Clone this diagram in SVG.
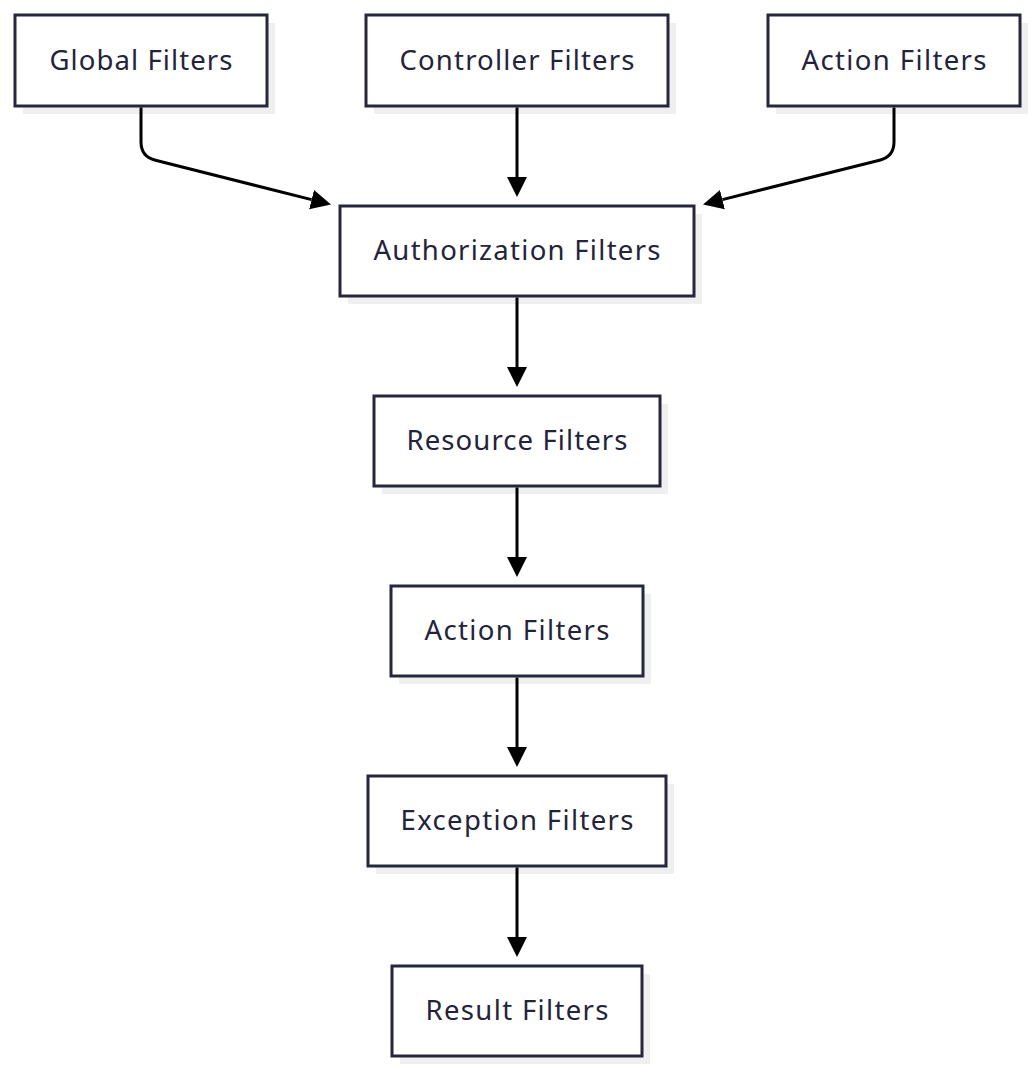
<svg xmlns="http://www.w3.org/2000/svg" width="1036" height="1072" viewBox="0 0 1036 1072">
<style>
.shadow{fill:#efefef;}
.box{fill:#ffffff;stroke:#26263c;stroke-width:3;}
.lbl{font-family:"Noto Sans","Liberation Sans",sans-serif;font-size:27.5px;fill:#23233a;text-anchor:middle;}
.edge{fill:none;stroke:#000000;stroke-width:3;}
</style>
<defs>
<marker id="arr" viewBox="0 0 10 10" refX="0" refY="5" markerUnits="userSpaceOnUse" markerWidth="20" markerHeight="25" orient="auto">
<path d="M0,0 L10,5 L0,10 z" fill="#000000"/>
</marker>
</defs>
<rect width="1036" height="1072" fill="#ffffff"/>
<g id="global">
<rect class="shadow" x="23" y="23" width="252" height="91"/>
<rect class="box" x="15" y="15" width="252" height="91"/>
<text class="lbl" x="141" y="70" textLength="183">Global Filters</text>
</g>
<g id="controller">
<rect class="shadow" x="374" y="23" width="302" height="91"/>
<rect class="box" x="366" y="15" width="302" height="91"/>
<text class="lbl" x="517" y="70" textLength="235">Controller Filters</text>
</g>
<g id="action_top">
<rect class="shadow" x="776" y="23" width="252" height="91"/>
<rect class="box" x="768" y="15" width="252" height="91"/>
<text class="lbl" x="894" y="70" textLength="185">Action Filters</text>
</g>
<g id="authorization">
<rect class="shadow" x="348" y="214" width="354" height="90"/>
<rect class="box" x="340" y="206" width="354" height="90"/>
<text class="lbl" x="517" y="260" textLength="287">Authorization Filters</text>
</g>
<g id="resource">
<rect class="shadow" x="382" y="404" width="286" height="90"/>
<rect class="box" x="374" y="396" width="286" height="90"/>
<text class="lbl" x="517" y="450" textLength="221">Resource Filters</text>
</g>
<g id="action">
<rect class="shadow" x="399" y="594" width="252" height="90"/>
<rect class="box" x="391" y="586" width="252" height="90"/>
<text class="lbl" x="517" y="640" textLength="185">Action Filters</text>
</g>
<g id="exception">
<rect class="shadow" x="376" y="784" width="298" height="90"/>
<rect class="box" x="368" y="776" width="298" height="90"/>
<text class="lbl" x="517" y="830" textLength="233">Exception Filters</text>
</g>
<g id="result">
<rect class="shadow" x="400" y="974" width="250" height="90"/>
<rect class="box" x="392" y="966" width="250" height="90"/>
<text class="lbl" x="517" y="1020" textLength="183">Result Filters</text>
</g>
<g id="connectors">
<path class="edge" d="M141,107.5 L141,142 Q141,156.7 155.5,160.3 L311.6,199.6" marker-end="url(#arr)"/>
<path class="edge" d="M517,107.5 L517,177" marker-end="url(#arr)"/>
<path class="edge" d="M894,107.5 L894,142 Q894,156.5 879.5,160.2 L722.4,199.6" marker-end="url(#arr)"/>
<path class="edge" d="M517,297.5 L517,367" marker-end="url(#arr)"/>
<path class="edge" d="M517,487.5 L517,557" marker-end="url(#arr)"/>
<path class="edge" d="M517,677.5 L517,747" marker-end="url(#arr)"/>
<path class="edge" d="M517,867.5 L517,937" marker-end="url(#arr)"/>
</g>
</svg>
